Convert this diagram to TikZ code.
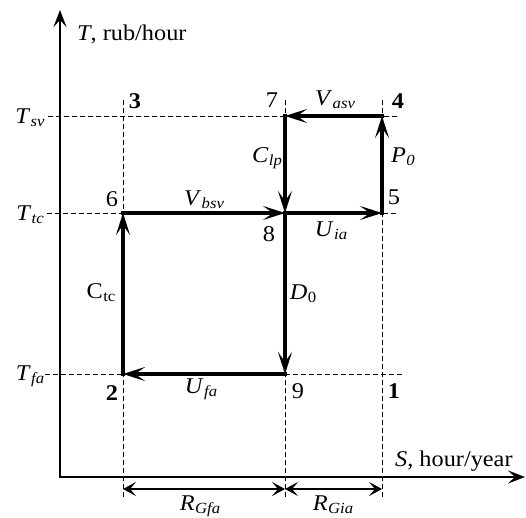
\documentclass[tikz,border=0pt]{standalone}
\usepackage{fontspec}
\setmainfont[FakeStretch=1.08]{Liberation Serif}
\usetikzlibrary{arrows.meta}
\newcommand\sublab[2]{\textit{#1}\kern0.02em\raisebox{-0.3ex}{\fontsize{15.5}{15.5}\selectfont\textit{#2}}}
\newcommand\sublabr[2]{#1\kern0.02em\raisebox{-0.3ex}{\fontsize{15.5}{15.5}\selectfont #2}}
\begin{document}
\begin{tikzpicture}[x=1pt,y=-1pt, font=\fontsize{22.5}{26}\selectfont,
  flow/.style={line width=3.3pt, line cap=rect, -{Stealth[length=22pt,width=14pt,inset=10pt]}},
  axis/.style={line width=2.3pt, line join=miter, {Stealth[length=17pt,width=13pt,inset=7pt]}-{Stealth[length=17pt,width=13pt,inset=7pt]}},
  guide/.style={line width=0.9pt, dash pattern=on 4.5pt off 3.5pt},
  dim/.style={line width=1.8pt, {Stealth[length=13pt,width=14pt,inset=6pt]}-{Stealth[length=13pt,width=14pt,inset=6pt]}},
  lbl/.style={inner sep=0pt}]
\useasboundingbox (0,0) rectangle (526,517);
% coordinates
\coordinate (yend) at (60,10);
\coordinate (O) at (60,477);
\coordinate (xend) at (525,477);
\coordinate (p1) at (382,374);
\coordinate (p2) at (123,374);
\coordinate (p3) at (123,116);
\coordinate (p4) at (382,116);
\coordinate (p5) at (382,213);
\coordinate (p6) at (123,213);
\coordinate (p7) at (285,116);
\coordinate (p8) at (285,213);
\coordinate (p9) at (285,374);
% guide lines
\coordinate (hsvA) at (48,116); \coordinate (hsvB) at (400,116);
\coordinate (htcA) at (47,213); \coordinate (htcB) at (398,213);
\coordinate (hfaA) at (45,374); \coordinate (hfaB) at (402,374);
\coordinate (vaT) at (123,100); \coordinate (vaB) at (123,497);
\coordinate (vbT) at (285,100); \coordinate (vbB) at (285,497);
\coordinate (vcT) at (382,100); \coordinate (vcB) at (382,497);
\draw[guide] (hsvA) -- (hsvB);
\draw[guide] (htcA) -- (htcB);
\draw[guide] (hfaA) -- (hfaB);
\draw[guide] (vaT) -- (vaB);
\draw[guide] (vbT) -- (vbB);
\draw[guide] (vcT) -- (vcB);
% axes
\draw[axis] (yend) -- (O) -- (xend);
% dimension arrows
\coordinate (da) at (123,489); \coordinate (db) at (285,489); \coordinate (dc) at (382,489);
\draw[dim] (da) -- (db);
\draw[dim] (db) -- (dc);
% flows
\draw[flow] (p2) -- (p6);
\draw[flow] (p6) -- (p8);
\draw[flow] (p8) -- (p5);
\draw[flow] (p5) -- (p4);
\draw[flow] (p4) -- (p7);
\draw[flow] (p7) -- (p8);
\draw[flow] (p8) -- (p9);
\draw[flow] (p9) -- (p2);
% axis labels
\node[lbl, anchor=base west] (ylab) at (77,40) {\textit{T}, rub/hour};
\node[lbl, anchor=base west] (xlab) at (395,466) {\textit{S}, hour/year};
\node[lbl] (Tsv) at (30,118) {\sublab{T}{sv}};
\node[lbl] (Ttc) at (30,215) {\sublab{T}{tc}};
\node[lbl] (Tfa) at (30,376) {\sublab{T}{fa}};
% point numbers
\node[lbl] (n3) at (135,101) {\textbf{3}};
\node[lbl] (n7) at (272,100) {7};
\node[lbl] (n4) at (398,101) {\textbf{4}};
\node[lbl] (n6) at (112,199) {6};
\node[lbl] (n5) at (394,197) {5};
\node[lbl] (n8) at (269,234) {8};
\node[lbl] (n2) at (112,393) {\textbf{2}};
\node[lbl] (n9) at (298,391) {9};
\node[lbl] (n1) at (394,391) {\textbf{1}};
% edge labels
\node[lbl] (Vasv) at (335,100) {\sublab{V}{asv}};
\node[lbl] (Clp) at (267,158) {\sublab{C}{lp}};
\node[lbl] (P0) at (403,157) {\sublab{P}{0}};
\node[lbl] (Vbsv) at (204,200) {\sublab{V}{bsv}};
\node[lbl] (Uia) at (331,231) {\sublab{U}{ia}};
\node[lbl] (Ctc) at (101,293) {\sublabr{C}{tc}};
\node[lbl] (D0) at (303,294) {\textit{D}\kern0.02em\raisebox{-0.3ex}{\fontsize{15.5}{15.5}\selectfont 0}};
\node[lbl] (Ufa) at (201,389) {\sublab{U}{fa}};
\node[lbl, anchor=base] (RGfa) at (200,510) {\sublab{R}{Gfa}};
\node[lbl, anchor=base] (RGia) at (333,510) {\sublab{R}{Gia}};
\end{tikzpicture}
\end{document}
